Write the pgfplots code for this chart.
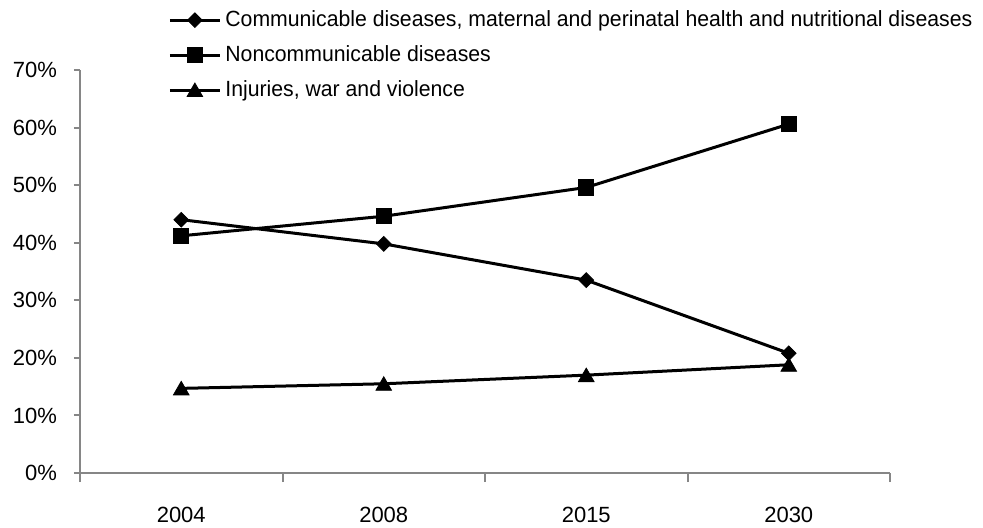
\documentclass[border=0pt]{standalone}
\usepackage{fontspec}
\setmainfont{Liberation Sans}
\newfontfamily\legfont[FakeStretch=0.965]{Liberation Sans}
\usepackage{pgfplots}
\pgfplotsset{compat=1.18}
\definecolor{axisgray}{RGB}{134,134,134}

\begin{document}
\begin{tikzpicture}
\useasboundingbox (-40pt,-27pt) rectangle (451.5pt,236.5pt);
\begin{axis}[
  at={(0,0)}, anchor=south west,
  width=405pt, height=201.5pt, scale only axis,
  xmin=-0.5, xmax=3.5, ymin=0, ymax=70,
  axis x line*=bottom, axis y line*=left,
  axis line style={axisgray, line width=1pt},
  xtick={0,1,2,3}, xticklabels={2004,2008,2015,2030},
  minor xtick={-0.5,0.5,1.5,2.5,3.5},
  major x tick style={draw=none},
  minor x tick style={axisgray, line width=1pt},
  y tick style={axisgray, line width=1pt},
  minor tick length=4.5pt,
  major tick length=3pt,
  tick align=outside,
  ytick={0,10,...,70},
  yticklabel={\pgfmathprintnumber[assume math mode=true]{\tick}\%},
  tick label style={font=\fontsize{11}{13.2}\selectfont, black},
  xticklabel style={yshift=-10.5pt},
  yticklabel style={xshift=-5pt},
  legend style={draw=none, fill=none, at={(0.1012,1.168)}, anchor=north west,
    font=\legfont\fontsize{11}{13.2}\selectfont, row sep=4pt},
  legend cell align=left,
  legend image code/.code={\draw[mark repeat=2,mark phase=2,#1]
    plot coordinates {(0pt,0pt) (12.5pt,0pt) (25pt,0pt)};},
]
\addplot[black, line width=1.5pt, mark=square*,
  mark options={rotate=45, line width=0.4pt}, mark size=2.6pt]
  coordinates {(0,44.0) (1,39.8) (2,33.5) (3,20.8)};
\addlegendentry{Communicable diseases, maternal and perinatal health and nutritional diseases}
\addplot[black, line width=1.5pt, mark=square*,
  mark options={line width=0.4pt}, mark size=3.8pt]
  coordinates {(0,41.2) (1,44.6) (2,49.6) (3,60.6)};
\addlegendentry{Noncommunicable diseases}
\addplot[black, line width=1.5pt, mark=triangle*,
  mark options={line width=0.4pt, yshift=-1pt}, mark size=4.5pt]
  coordinates {(0,14.7) (1,15.5) (2,17.0) (3,18.8)};
\addlegendentry{Injuries, war and violence}
\end{axis}
\end{tikzpicture}
\end{document}
